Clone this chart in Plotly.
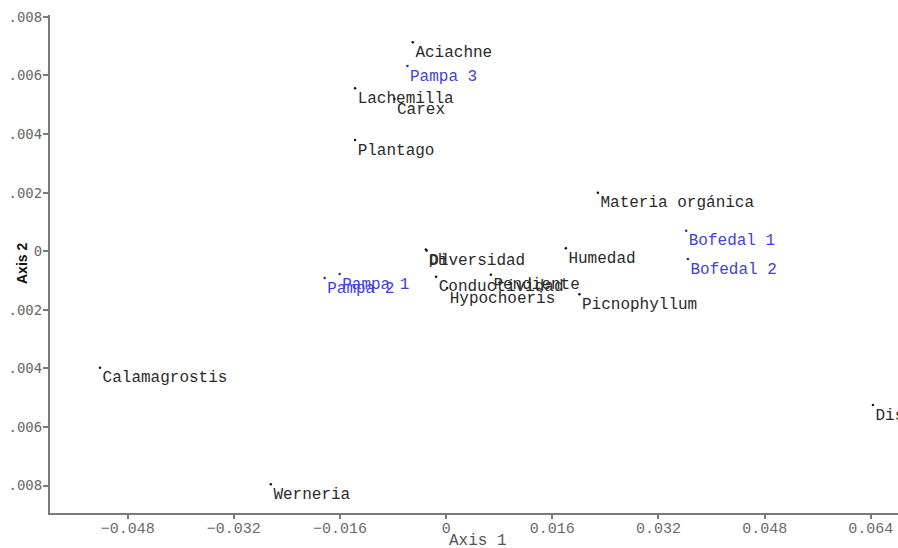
import plotly.graph_objects as go

# Ordination scores: environmental variables and species (black)
var_names = [
    "Aciachne", "Lachemilla", "Carex", "Plantago", "Materia orgánica",
    "Humedad", "pH", "Diversidad", "Conductividad", "Pendiente",
    "Hypochoeris", "Picnophyllum", "Calamagrostis", "Werneria", "Distancia",
]
var_axis1 = [
    -0.00502, -0.01372, -0.00779, -0.01372, 0.02287,
    0.01804, -0.00306, -0.00294, -0.00151, 0.00674,
    0.00015, 0.02009, -0.05216, -0.02642, 0.06432,
]
var_axis2 = [
    0.007133, 0.005562, 0.005197, 0.003797, 0.001997,
    0.000099, 0.000058, 0.000024, -0.000871, -0.000802,
    -0.001257, -0.001472, -0.003978, -0.007959, -0.005251,
]

# Ordination scores: sampling sites (blue)
site_names = ["Pampa 3", "Bofedal 1", "Bofedal 2", "Pampa 1", "Pampa 2"]
site_axis1 = [-0.00583, 0.03618, 0.03643, -0.01605, -0.01831]
site_axis2 = [0.006324, 0.000700, -0.000266, -0.000778, -0.000915]

x_ticks = [-0.048, -0.032, -0.016, 0, 0.016, 0.032, 0.048, 0.064]
y_ticks = [0.008, 0.006, 0.004, 0.002, 0, -0.002, -0.004, -0.006, -0.008]
# y tick labels as printed along the left edge of the panel
y_tick_text = [".008", ".006", ".004", ".002", "0", ".002", ".004", ".006", ".008"]

label_font = "Liberation Mono, Courier New, monospace"
black = "#2a2a2a"
blue = "#4141dc"

fig = go.Figure()
fig.add_trace(go.Scatter(
    x=var_axis1, y=var_axis2, text=var_names,
    mode="markers+text", textposition="bottom right",
    marker=dict(size=2.5, color="#111111"),
    textfont=dict(family=label_font, size=16, color=black),
    hoverinfo="text", showlegend=False,
))
fig.add_trace(go.Scatter(
    x=site_axis1, y=site_axis2, text=site_names,
    mode="markers+text", textposition="bottom right",
    marker=dict(size=2.5, color="#2222cc"),
    textfont=dict(family=label_font, size=16, color=blue),
    hoverinfo="text", showlegend=False,
))

axis_grey = "#7a7a7a"
fig.update_xaxes(
    range=[-0.0597, 0.0681], tickvals=x_ticks,
    showgrid=False, zeroline=False, showline=True,
    linecolor=axis_grey, linewidth=2,
    ticks="outside", ticklen=4, tickwidth=1.5, tickcolor=axis_grey,
    ticklabelstandoff=-4,
    tickfont=dict(family=label_font, size=15, color="#6a6a6a"),
    automargin=False,
)
fig.update_yaxes(
    range=[-0.008939, 0.008065], tickvals=y_ticks, ticktext=y_tick_text,
    showgrid=False, zeroline=False, showline=True,
    linecolor=axis_grey, linewidth=2,
    ticks="outside", ticklen=5, tickwidth=1.5, tickcolor=axis_grey,
    ticklabelstandoff=-2,
    tickfont=dict(family="DejaVu Sans Mono, monospace", size=14, color="#6a6a6a"),
    automargin=False,
)

fig.add_annotation(
    text="Axis 1", xref="paper", yref="paper", x=0.505, y=0,
    yshift=-28, xanchor="center", yanchor="middle", showarrow=False,
    font=dict(family=label_font, size=16, color="#555555"),
)
fig.add_annotation(
    text="<b>Axis 2</b>", xref="paper", yref="paper", x=0, y=0.5,
    xshift=-28, xanchor="center", yanchor="middle", showarrow=False,
    textangle=-90,
    font=dict(family="Liberation Sans, Arial, sans-serif", size=14, color="#111111"),
)

fig.update_layout(
    width=898, height=548,
    margin=dict(l=50, r=0, t=15, b=35),
    paper_bgcolor="white", plot_bgcolor="white",
    template="none",
)

fig.write_html("out.html")
